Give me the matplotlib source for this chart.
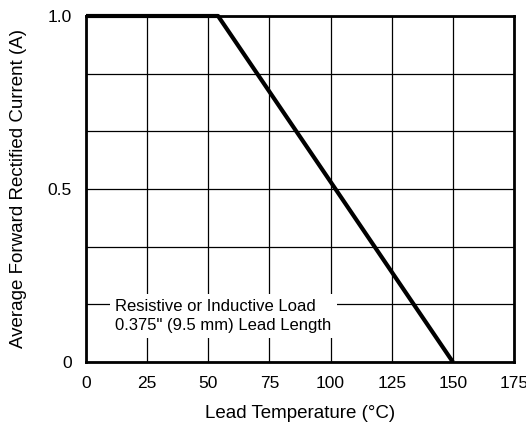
import matplotlib
matplotlib.use('Agg')
import matplotlib.pyplot as plt
from matplotlib.ticker import MultipleLocator

# derating curve: lead temperature (C) vs average forward current (A)
temp = [0, 54, 150]
current = [1.0, 1.0, 0.0]
xticks = [0, 25, 50, 75, 100, 125, 150, 175]
yticks = [0, 0.5, 1.0]
ytick_labels = ['0', '0.5', '1.0']

plt.rcParams['font.family'] = ['Liberation Sans', 'DejaVu Sans']

fig = plt.figure(figsize=(5.26, 4.23), dpi=100)
ax = fig.add_axes([86 / 526, 1 - 362 / 423, 428 / 526, 346 / 423])

ax.plot(temp, current, color='black', lw=3, solid_capstyle='butt',
        clip_on=False, zorder=4)

ax.set_xlim(0, 175)
ax.set_ylim(0, 1.0)
ax.set_xticks(xticks)
ax.set_yticks(yticks)
ax.set_yticklabels(ytick_labels)
ax.yaxis.set_minor_locator(MultipleLocator(1 / 6))
ax.grid(True, which='major', axis='both', color='black', lw=0.9)
ax.grid(True, which='minor', axis='y', color='black', lw=0.9)
ax.tick_params(which='both', length=0, pad=10, labelsize=12.5)
for s in ax.spines.values():
    s.set_linewidth(2)

ax.set_xlabel('Lead Temperature (\u00b0C)', fontsize=13.5, labelpad=10)
ax.set_ylabel('Average Forward Rectified Current (A)', fontsize=13.5, labelpad=15)

ax.text(12, 0.133, 'Resistive or Inductive Load\n0.375" (9.5 mm) Lead Length',
        fontsize=12, ha='left', va='center', linespacing=1.3, zorder=3,
        bbox=dict(facecolor='white', edgecolor='none', pad=4))

fig.savefig('out.png', dpi=100)
